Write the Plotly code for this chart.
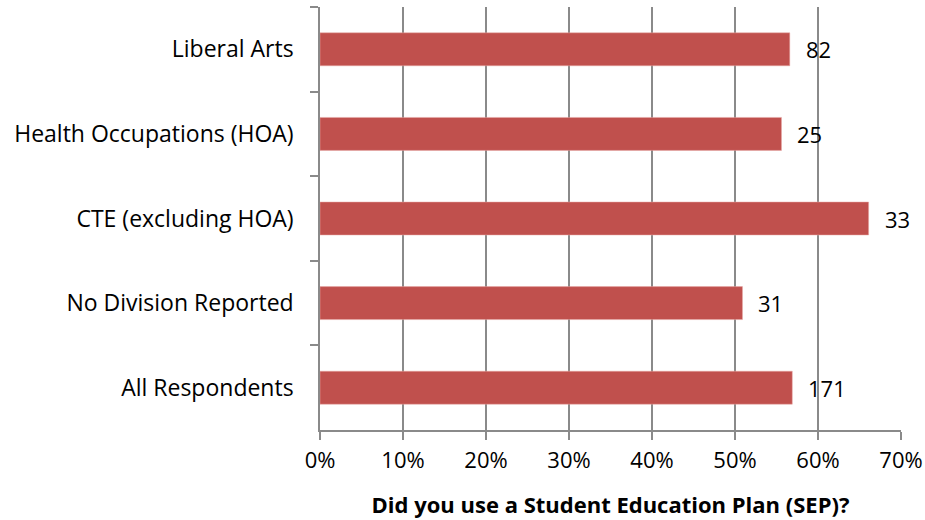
import plotly.graph_objects as go

categories = ["Liberal Arts", "Health Occupations (HOA)", "CTE (excluding HOA)",
              "No Division Reported", "All Respondents"]
percent_yes = [0.566, 0.556, 0.661, 0.509, 0.569]
counts = [82, 25, 33, 31, 171]
x_ticks = [0, 0.1, 0.2, 0.3, 0.4, 0.5, 0.6, 0.7]
x_tick_labels = ["0%", "10%", "20%", "30%", "40%", "50%", "60%", "70%"]
x_title = "Did you use a Student Education Plan (SEP)?"

font_family = "Open Sans, sans-serif"
axis_color = "#8a8a8a"

fig = go.Figure()
fig.add_trace(go.Bar(
    y=categories, x=percent_yes, orientation="h",
    marker=dict(color="#C0504D", line=dict(color="#E8A9A7", width=0.5)),
    hoverinfo="skip",
))

for cat, val, n in zip(categories, percent_yes, counts):
    fig.add_annotation(
        x=val, y=cat, text=str(n), showarrow=False,
        xanchor="left", yanchor="middle", xshift=14,
        font=dict(family=font_family, size=22, color="#000000"),
    )

fig.update_layout(
    width=925, height=520,
    margin=dict(l=320, r=24, t=7, b=90, autoexpand=False),
    paper_bgcolor="white", plot_bgcolor="white",
    bargap=0.61,
    showlegend=False,
    font=dict(family=font_family, size=22, color="#000000"),
    xaxis=dict(
        range=[0, 0.7], tickvals=x_ticks, ticktext=x_tick_labels,
        showgrid=True, gridcolor=axis_color, gridwidth=1.5,
        showline=True, linecolor=axis_color, linewidth=1.5,
        ticks="outside", ticklen=8, tickcolor=axis_color, tickwidth=1.5,
        zeroline=False, automargin=False,
        tickfont=dict(family=font_family, size=22),
        ticklabelstandoff=2,
        title=dict(text="<b>" + x_title + "</b>", standoff=24,
                   font=dict(family=font_family, size=22)),
    ),
    yaxis=dict(
        autorange="reversed",
        showline=True, linecolor=axis_color, linewidth=1.5,
        ticks="outside", ticklen=8, tickcolor=axis_color, tickwidth=1.5,
        tickson="boundaries", automargin=False,
        showgrid=False, zeroline=False,
        ticklabelstandoff=20,
        tickfont=dict(family=font_family, size=23),
    ),
)

fig.write_html("out.html", config={"displayModeBar": False},
               post_script="document.body.style.margin='0';")
